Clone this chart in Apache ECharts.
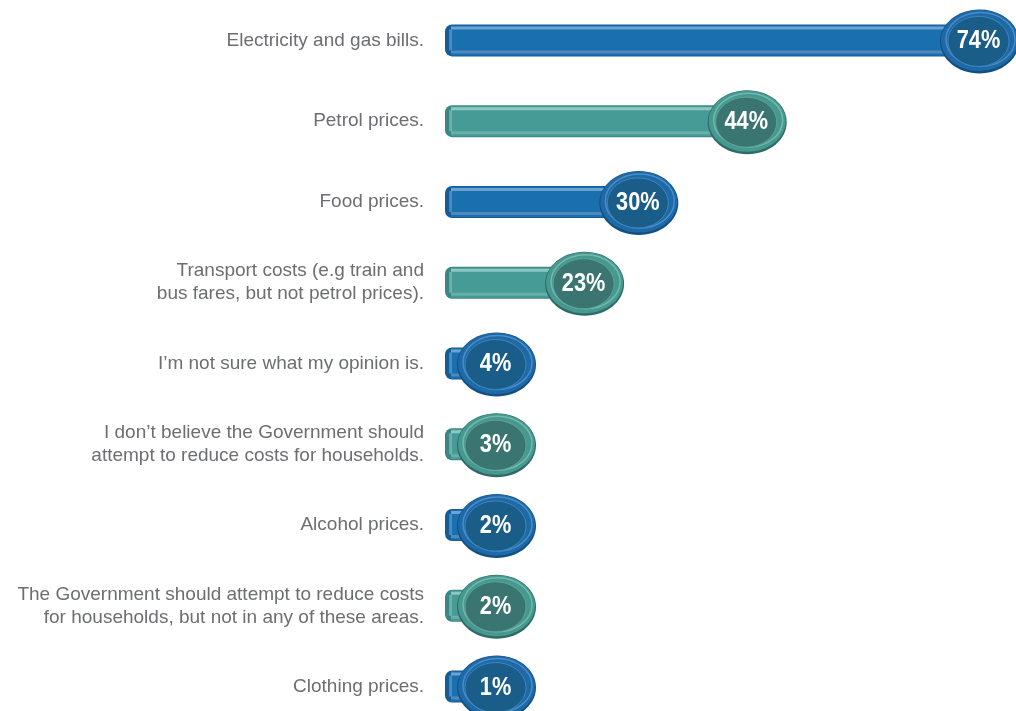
<!DOCTYPE html>
<html>
<head>
<meta charset="utf-8">
<script src="https://cdn.jsdelivr.net/npm/echarts@6/dist/echarts.min.js"></script>
<style>html,body{margin:0;padding:0;background:#fff;overflow:hidden;}#c{width:1016px;height:711px;}</style>
</head>
<body>
<div id="c"></div>
<script>
const categories = [
  "Electricity and gas bills.",
  "Petrol prices.",
  "Food prices.",
  "Transport costs (e.g train and\nbus fares, but not petrol prices).",
  "I\u2019m not sure what my opinion is.",
  "I don\u2019t believe the Government should\nattempt to reduce costs for households.",
  "Alcohol prices.",
  "The Government should attempt to reduce costs\nfor households, but not in any of these areas.",
  "Clothing prices."
];
const values = [74, 44, 30, 23, 4, 3, 2, 2, 1];

const palettes = [
  {body:'#1a6fae', top:'#6aa3d4', bottom:'#4f88bb', cap:'#145d96', outer:'#1e69a8', rim:'#5c9bd0', inner:'#1b5d89', innerStroke:'#3d86c0', dark:'#13507f'},
  {body:'#479b97', top:'#8cc7c2', bottom:'#6aaea9', cap:'#3a8682', outer:'#46998f', rim:'#86c4bd', inner:'#3a7571', innerStroke:'#5aa59f', dark:'#2f6a66'}
];

const chart = echarts.init(document.getElementById('c'), null, {renderer:'canvas'});
chart.setOption({
  animation: false,
  grid: {left: 443, right: 0, top: 0, bottom: -16, outerBoundsMode: 'none', containLabel: false},
  xAxis: {type:'value', min:0, max:74, show:false},
  yAxis: {
    type:'category', data: categories, inverse:true,
    axisLine:{show:false}, axisTick:{show:false},
    axisLabel:{
      margin:19, fontSize:19, color:'#6d6e71', align:'right', lineHeight:23,
      fontFamily:'"Liberation Sans", Arial, sans-serif'
    }
  },
  series: [{
    type:'custom',
    data: values.map((v,i)=>[v,i]),
    encode:{x:0, y:1},
    clip:false,
    renderItem: function(params, api){
      const v = api.value(0), idx = api.value(1);
      const p0 = api.coord([0, idx]);
      const p1 = api.coord([v, idx]);
      const pal = palettes[idx % 2];
      const cy = p0[1];
      const right = Math.max(p1[0] + 3, p0[0] + 93);
      const rx = 39.5, ry = 32;
      const cx = right - rx;
      const x0 = p0[0];
      const barEnd = cx;
      const h = 32;
      const children = [];
      children.push({type:'rect', shape:{x:x0+2, y:cy-h/2, width:barEnd-x0-2, height:h, r:[7,0,0,7]}, style:{fill:pal.cap}});
      children.push({type:'rect', shape:{x:x0+8, y:cy-h/2+1, width:barEnd-x0-8, height:h-2}, style:{fill:pal.body}});
      children.push({type:'rect', shape:{x:x0+8, y:cy-h/2+2, width:barEnd-x0-8, height:3}, style:{fill:pal.top}});
      children.push({type:'rect', shape:{x:x0+8, y:cy+h/2-6, width:barEnd-x0-8, height:3}, style:{fill:pal.bottom}});
      children.push({type:'rect', shape:{x:x0+6, y:cy-h/2+5, width:3, height:h-11}, style:{fill:pal.top, opacity:0.6}});
      children.push({type:'ellipse', shape:{cx:cx, cy:cy+1, rx:rx, ry:ry}, style:{fill:pal.dark}});
      children.push({type:'ellipse', shape:{cx:cx, cy:cy, rx:rx-1, ry:ry-1.5}, style:{fill:pal.outer}});
      children.push({type:'ellipse', shape:{cx:cx+1, cy:cy-1, rx:rx-5, ry:ry-5}, style:{fill:'none', stroke:pal.rim, lineWidth:1.5, opacity:0.7}});
      children.push({type:'ellipse', shape:{cx:cx-1, cy:cy+1, rx:rx-9, ry:ry-7}, style:{fill:pal.inner, stroke:pal.innerStroke, lineWidth:1}});
      children.push({type:'text', x:cx-1, y:cy+1, scaleX:0.87, scaleY:1,
        style:{x:0, y:0, text:v+'%', fill:'#ffffff', align:'center', verticalAlign:'middle',
        font:'bold 25px "Liberation Sans", Arial, sans-serif'}});
      return {type:'group', children:children};
    }
  }]
});
</script>
</body>
</html>
